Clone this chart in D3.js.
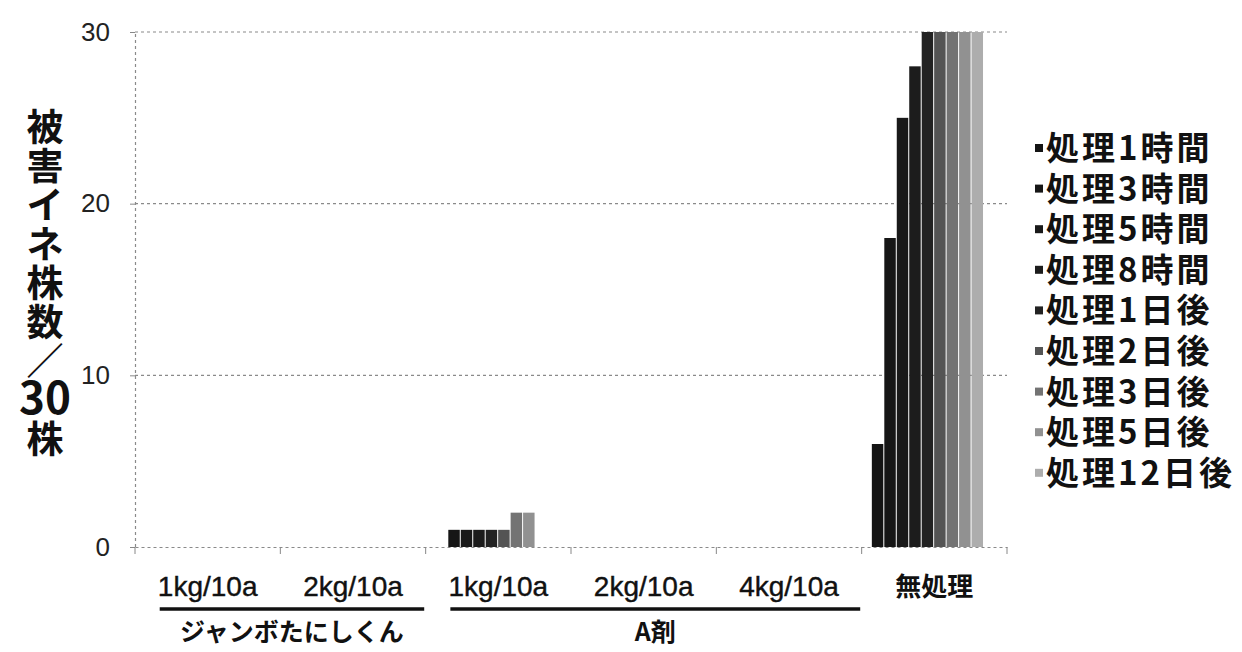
<!DOCTYPE html>
<html><head><meta charset="utf-8">
<script src="https://cdn.jsdelivr.net/npm/d3@7"></script>
<style>
body{margin:0;background:#fff;}
text{font-family:"Liberation Sans",Arial,sans-serif;}
.jp{font-family:"Noto Sans CJK JP",sans-serif;}
</style></head><body>
<svg id="c" width="1242" height="652"></svg>
<script>
const categories = ["1kg/10a","2kg/10a","1kg/10a ","2kg/10a ","4kg/10a","無処理"];
const groups = [{name:"ジャンボたにしくん", from:0, to:1},{name:"A剤", from:2, to:4}];
const series = ["処理1時間","処理3時間","処理5時間","処理8時間","処理1日後","処理2日後","処理3日後","処理5日後","処理12日後"];
// values per series, aligned with categories
const v1h  = [0,0,0,0,0,6];
const v3h  = [0,0,1,0,0,18];
const v5h  = [0,0,1,0,0,25];
const v8h  = [0,0,1,0,0,28];
const v1d  = [0,0,1,0,0,30];
const v2d  = [0,0,1,0,0,30];
const v3d  = [0,0,2,0,0,30];
const v5d  = [0,0,2,0,0,30];
const v12d = [0,0,0,0,0,30];
const yTicks = [0,10,20,30];
const yTitle = ["被","害","イ","ネ","株","数","／","30","株"];
const seriesValues = [v1h,v3h,v5h,v8h,v1d,v2d,v3d,v5d,v12d];
const colors = ["#141414","#161616","#191919","#1c1c1c","#222222","#545454","#737373","#919191","#adadad"];

const svg = d3.select("#c");
const L=135, R=1007, T=32, B=547;
const x0 = d3.scaleBand().domain(categories).range([L,R]).padding(0);
const bw = x0.bandwidth();
const x1 = d3.scaleBand().domain(series).range([bw*0.07, bw*0.835]).paddingInner(0.08);
const y = d3.scaleLinear().domain([0,30]).range([B,T]);

// gridlines
svg.append("g").selectAll("line").data(yTicks.filter(d=>d>0)).join("line")
  .attr("x1",L).attr("x2",R).attr("y1",d=>y(d)).attr("y2",d=>y(d))
  .attr("stroke","#8a8a8a").attr("stroke-width",1.2).attr("stroke-dasharray","3,3");

// y axis
const ya = svg.append("g").attr("transform",`translate(${L},0)`)
  .call(d3.axisLeft(y).tickValues(yTicks).tickSize(5).tickPadding(20));
ya.select(".domain").attr("stroke","#8a8a8a").attr("stroke-width",1.2).attr("stroke-dasharray","3,3");
ya.selectAll(".tick line").attr("stroke","#888");
ya.selectAll(".tick text").attr("font-size",26).attr("fill","#222").attr("font-family","Liberation Sans, Arial");

// x axis
const xa = svg.append("g").attr("transform",`translate(0,${B})`)
  .call(d3.axisBottom(x0).tickSize(0).tickFormat(""));
xa.select(".domain").attr("stroke","#8a8a8a").attr("stroke-width",1.2).attr("stroke-dasharray","3,3");
svg.append("g").selectAll("line").data(categories.concat(["end"])).join("line")
  .attr("x1",(d,i)=>L+i*bw).attr("x2",(d,i)=>L+i*bw)
  .attr("y1",B).attr("y2",B+7).attr("stroke","#888").attr("stroke-width",1);

// bars
const rows = [];
categories.forEach((c,ci)=>series.forEach((s,si)=>rows.push({c,s,si,v:seriesValues[si][ci]})));
svg.append("g").selectAll("rect").data(rows.filter(d=>d.v>0)).join("rect")
  .attr("x",d=>x0(d.c)+x1(d.s)).attr("width",x1.bandwidth())
  .attr("y",d=>y(d.v)).attr("height",d=>B-y(d.v))
  .attr("fill",d=>colors[d.si]);

// category labels
svg.append("g").selectAll("text").data(categories).join("text")
  .attr("class",d=>d==="無処理"?"jp":null)
  .attr("x",d=>x0(d)+bw/2).attr("y",596)
  .attr("text-anchor","middle").attr("font-size",d=>d==="無処理"?26:28)
  .attr("font-weight",d=>d==="無処理"?"bold":"normal")
  .attr("fill","#111").attr("stroke",d=>d==="無処理"?null:"#111").attr("stroke-width",0.4)
  .text(d=>d.trim());

// group underline and labels
groups.forEach(g=>{
  const a = x0(categories[g.from])+bw*0.17, b = x0(categories[g.to])+bw*0.99;
  svg.append("line").attr("x1",a).attr("x2",b).attr("y1",609).attr("y2",609)
    .attr("stroke","#111").attr("stroke-width",3.5);
  svg.append("text").attr("class","jp").attr("x",(a+b)/2).attr("y",641)
    .attr("text-anchor","middle").attr("font-size",25).attr("font-weight","bold")
    .attr("fill","#111").text(g.name);
});

// y title (vertical stacked, one text element)
const yt = svg.append("text").attr("class","jp").attr("text-anchor","middle")
  .attr("font-weight","bold").attr("fill","#111");
yt.selectAll("tspan").data(yTitle).join("tspan")
  .attr("x",45).attr("y",(d,i)=>141+i*39)
  .attr("font-size",d=>d==="30"?44:37)
  .text(d=>d);

// legend
const lg = svg.append("g").selectAll("g").data(series).join("g")
  .attr("transform",(d,i)=>`translate(1035,${148+i*40.6})`);
lg.append("rect").attr("x",0).attr("y",-4).attr("width",8).attr("height",8)
  .attr("fill",(d,i)=>colors[i]);
lg.append("text").attr("class","jp").attr("x",11).attr("y",12)
  .attr("font-size",33).attr("font-weight","bold").attr("fill","#111")
  .attr("letter-spacing",3).text(d=>d);
</script>
</body></html>
